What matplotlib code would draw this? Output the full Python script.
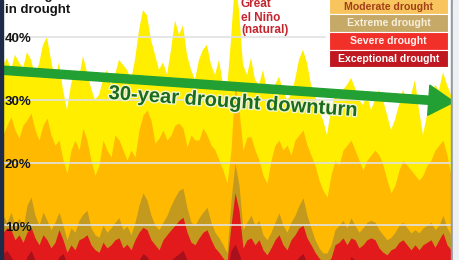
import numpy as np
import matplotlib.pyplot as plt
from matplotlib import patheffects
from matplotlib.patches import Rectangle

plt.rcParams['font.family'] = ['Liberation Sans', 'DejaVu Sans']

# percent of the globe in drought (cumulative by severity), 1982-2012
total = [35.6, 36.7, 34.8, 37.2, 36.0, 35.1, 37.6, 36.4, 34.0, 35.7, 38.8, 40.0, 36.4, 33.2, 36.0, 31.6,
         28.4, 32.4, 34.8, 33.5, 37.0, 34.4, 31.9, 30.0, 30.8, 33.2, 34.8, 32.4, 34.0, 36.4, 35.6, 34.8,
         33.2, 36.4, 41.1, 44.3, 43.5, 39.6, 37.2, 34.8, 36.0, 34.0, 38.0, 42.7, 40.4, 41.9, 37.2, 34.8,
         33.2, 36.4, 38.0, 38.8, 35.6, 34.0, 36.4, 32.4, 31.6, 39.6, 49.1, 44.3, 35.6, 34.0, 36.7, 33.2,
         32.4, 34.8, 31.6, 30.8, 32.4, 33.7, 31.6, 30.0, 30.8, 33.2, 36.4, 38.0, 35.9, 32.4, 30.8, 28.4,
         26.8, 24.4, 28.4, 30.8, 30.0, 31.6, 32.4, 33.5, 31.9, 30.0, 29.2, 30.8, 28.4, 30.0, 31.6, 30.0,
         27.6, 25.2, 26.8, 29.2, 31.6, 30.0, 30.8, 33.2, 28.4, 24.4, 27.6, 30.0, 32.4, 31.6, 34.4, 32.4,
         30.8]
moderate = [24.4, 26.0, 27.3, 25.2, 23.9, 26.0, 26.8, 27.9, 25.2, 23.6, 26.0, 27.1, 24.4, 22.8, 23.6, 20.4,
            18.3, 22.0, 23.6, 22.0, 25.5, 23.6, 20.4, 18.0, 19.6, 23.6, 22.0, 20.9, 24.4, 23.6, 22.0, 20.4,
            22.0, 20.9, 25.2, 27.6, 28.4, 26.8, 23.1, 23.9, 25.2, 23.6, 24.4, 26.0, 26.3, 25.5, 22.5, 24.4,
            23.6, 23.6, 25.5, 24.4, 22.8, 22.0, 20.4, 18.8, 16.7, 22.0, 32.7, 28.4, 22.0, 24.1, 24.1, 22.0,
            20.4, 18.0, 16.7, 20.4, 22.8, 23.6, 22.0, 22.8, 21.2, 23.6, 24.4, 25.2, 22.8, 21.2, 19.6, 17.2,
            15.6, 14.5, 18.0, 20.4, 19.6, 22.0, 22.8, 23.6, 22.0, 20.4, 18.8, 20.4, 21.2, 22.0, 21.2, 19.6,
            17.2, 15.2, 16.4, 18.8, 20.4, 19.6, 18.8, 18.0, 17.2, 18.0, 19.6, 20.4, 22.0, 22.8, 23.6, 21.2,
            18.0]
extreme = [11.6, 10.5, 12.1, 10.0, 11.2, 9.6, 13.2, 14.5, 11.6, 10.0, 12.1, 10.8, 9.3, 10.5, 12.1, 10.0,
           7.7, 9.6, 8.9, 10.8, 11.8, 12.4, 9.6, 8.5, 8.1, 10.0, 8.9, 9.6, 10.5, 11.2, 9.3, 9.9,
           8.5, 10.5, 13.2, 15.2, 14.0, 11.6, 10.0, 9.3, 10.5, 11.6, 13.2, 14.5, 15.6, 15.9, 12.8, 10.5,
           10.0, 11.2, 12.1, 12.9, 10.5, 8.9, 8.0, 6.9, 5.6, 14.0, 19.9, 16.4, 9.3, 10.5, 11.6, 10.0,
           10.8, 8.5, 7.7, 8.9, 10.5, 12.0, 10.0, 8.9, 10.5, 11.6, 13.2, 14.4, 11.6, 9.6, 7.7, 6.4,
           5.6, 5.6, 6.9, 9.3, 10.0, 10.8, 9.6, 11.2, 10.0, 8.9, 9.6, 10.5, 10.8, 10.5, 9.3, 8.5,
           7.7, 8.1, 8.9, 10.0, 10.5, 9.6, 8.8, 9.3, 8.8, 9.6, 10.0, 10.5, 9.3, 10.0, 11.6, 9.6,
           8.5]
severe = [8.9, 9.6, 9.3, 7.7, 8.5, 7.3, 8.9, 9.7, 8.0, 6.9, 8.5, 7.7, 6.4, 7.3, 9.3, 7.7,
          5.7, 6.9, 6.1, 7.7, 8.0, 8.5, 6.9, 6.1, 5.7, 7.3, 6.4, 6.9, 7.7, 8.0, 6.4, 7.0,
          6.1, 7.7, 8.9, 9.7, 9.3, 7.7, 6.9, 6.1, 7.7, 8.5, 9.3, 10.0, 10.8, 11.3, 8.9, 7.3,
          6.9, 8.0, 8.9, 9.3, 7.7, 6.4, 5.7, 4.8, 4.1, 10.0, 15.2, 12.4, 6.4, 7.7, 8.0, 6.9,
          7.7, 6.1, 5.3, 6.4, 7.7, 8.5, 6.9, 6.1, 7.7, 8.5, 9.6, 10.0, 8.0, 6.9, 5.7, 4.8,
          4.1, 4.1, 4.8, 6.9, 7.3, 8.0, 6.9, 8.0, 7.7, 6.4, 6.9, 7.7, 8.0, 7.7, 6.4, 5.7,
          5.3, 6.1, 6.4, 7.3, 7.7, 6.9, 6.1, 6.9, 6.1, 6.9, 7.3, 7.7, 6.5, 7.7, 8.8, 6.9,
          6.1]
exceptional = [5.5, 6.0, 5.0, 4.0, 4.5, 3.5, 5.0, 6.0, 4.5, 3.5, 4.0, 3.5, 3.0, 3.5, 5.0, 5.5,
               4.0, 3.5, 3.0, 3.5, 4.0, 4.5, 3.5, 3.0, 3.0, 4.0, 3.5, 3.0, 3.5, 4.0, 3.5, 3.5,
               3.0, 3.5, 4.5, 5.5, 5.0, 4.0, 3.5, 3.0, 3.5, 4.0, 4.5, 5.0, 5.5, 6.0, 4.5, 3.5,
               3.0, 3.5, 4.0, 4.5, 3.5, 3.0, 3.0, 2.5, 2.5, 6.0, 7.0, 5.5, 3.5, 4.0, 4.5, 3.5,
               4.0, 3.5, 3.0, 3.5, 4.0, 4.5, 3.5, 3.0, 3.5, 4.0, 5.0, 5.5, 4.0, 3.5, 3.0, 2.5,
               2.5, 2.5, 3.0, 3.5, 4.0, 4.5, 3.5, 5.0, 4.5, 3.5, 3.5, 4.0, 4.0, 3.5, 3.0, 3.0,
               3.0, 3.5, 3.5, 4.0, 4.5, 3.5, 3.0, 3.5, 3.0, 3.5, 4.0, 4.5, 3.5, 4.0, 4.5, 3.5,
               3.0]

levels = [total, moderate, extreme, severe, exceptional]
fill_colors = ['#ffee00', '#ffb900', '#c49a1e', '#e31a1c', '#a8101c']

legend_labels = ['Moderate drought', 'Extreme drought', 'Severe drought', 'Exceptional drought']
legend_colors = ['#f7c45e', '#c6a867', '#f2302a', '#c01820']
legend_text_colors = ['#a33f18', '#f5efdc', '#fff2f0', '#ffffff']

grid_values = [10, 20, 30, 40]

W, H = 460, 260


def fx(px):
    return px / W


def fy(py):
    # pixel rows counted from the top of the picture
    return 1 - py / H


fig = plt.figure(figsize=(W / 100, H / 100), dpi=100)
fig.patch.set_facecolor('white')
ax = fig.add_axes([fx(3), 0, fx(450), 1])

x = np.arange(len(total))
for vals, c in zip(levels, fill_colors):
    ax.fill_between(x, 0, vals, color=c, lw=0, zorder=1)

ax.set_xlim(0, (len(total) - 1) * 450 / 448)
ax.set_ylim(4.47, 45.93)
ax.axis('off')

for v in grid_values:
    ax.axhline(v, color='#e2e2e2', lw=1.2, zorder=3)
    ax.text(2 / 450, v - 0.35, f'{v}%', transform=ax.get_yaxis_transform(),
            fontsize=9.5, weight='bold', color='#151515', ha='left', va='center', zorder=5)

# frame strips
fig.add_artist(Rectangle((0, 0), fx(3), 1, transform=fig.transFigure, color='#1d2a48', zorder=10))
fig.add_artist(Rectangle((fx(451), 0), fx(2.5), 1, transform=fig.transFigure, color='#9098a0', zorder=10))
fig.add_artist(Rectangle((fx(453.5), 0), fx(6.5), 1, transform=fig.transFigure, color='#eef0f2', zorder=10))

# axis title (top part cut off)
fig.text(fx(5), fy(-0.7), 'of the globe', fontsize=9.5, weight='bold', color='#151515',
         ha='left', va='baseline')
fig.text(fx(5), fy(13.5), 'in drought', fontsize=9.5, weight='bold', color='#151515',
         ha='left', va='baseline')

# el Nino note
for line, base in zip(['Great', 'el Niño', '(natural)'], [7.3, 21.0, 33.0]):
    fig.text(fx(241), fy(base), line, fontsize=8.5, weight='bold', color='#c4262e',
             ha='left', va='baseline')

# legend
fig.add_artist(Rectangle((fx(326), fy(70)), fx(125), fy(-5) - fy(70), transform=fig.transFigure,
                         color='white', zorder=6))
rows = [(-4, 14), (14, 32), (32, 50), (50, 67)]
for (top, bot), lab, c, tc in zip(rows, legend_labels, legend_colors, legend_text_colors):
    fig.add_artist(Rectangle((fx(329), fy(bot)), fx(119), fy(top) - fy(bot), transform=fig.transFigure,
                             facecolor=c, edgecolor='white', lw=0.8, zorder=7))
    fig.text(fx(388.5), fy((max(top, 0) + bot) / 2 + 0.5), lab, fontsize=7.6, weight='bold', color=tc,
             ha='center', va='center', zorder=8)

# trend arrow
ax.annotate('', xy=(fx(454), fy(102)), xytext=(0, fy(70)), xycoords='figure fraction',
            arrowprops=dict(arrowstyle='simple,head_length=1.3,head_width=1.55,tail_width=0.42',
                            mutation_scale=14, color='#22a033', shrinkA=0, shrinkB=0), zorder=9)
fig.text(fx(233), fy(102), '30-year drought downturn', fontsize=14.5, weight='bold', color='#1b6b1e',
         ha='center', va='center', rotation=-4, rotation_mode='anchor', zorder=9,
         path_effects=[patheffects.withStroke(linewidth=2, foreground='#f0f6d0')])

fig.savefig('out.png', dpi=100)
